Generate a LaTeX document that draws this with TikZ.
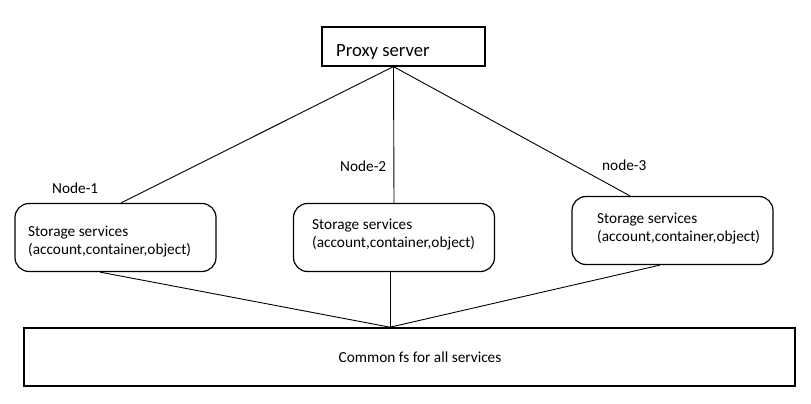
\documentclass[tikz,border=0pt]{standalone}
\usepackage{fontspec}
\setmainfont{Carlito}
\usetikzlibrary{calc}
\begin{document}
\begin{tikzpicture}[x=1pt,y=-1pt,
  link/.style={line width=0.9pt},
  proxybox/.style={draw,line width=1.2pt,minimum width=163pt,minimum height=39pt,inner sep=0pt},
  storebox/.style={draw,line width=1.2pt,rounded corners=14pt,minimum width=201pt,minimum height=68pt,inner sep=0pt},
  fsbox/.style={draw,line width=1.6pt,minimum width=771pt,minimum height=58pt,inner sep=0pt},
  txt/.style={anchor=base west,inner sep=0pt,font=\fontsize{15.3}{18}\selectfont},
  bigtxt/.style={anchor=base west,inner sep=0pt,font=\fontsize{18.67}{22}\selectfont}]
\useasboundingbox (0,0) rectangle (811,404);

% proxy at the top
\node[proxybox] (proxy) at (403.5,46.5) {};
\node[bigtxt] (proxylbl) at (336,57) {Proxy server};

% three storage nodes
\node[storebox] (box1) at (115.5,237.5) {};
\node[storebox] (box2) at (394,237.5) {};
\node[storebox] (box3) at (672.5,230.5) {};

\node[txt] (s1a) at (28,236) {Storage services};
\node[txt] (s1b) at (28,254) {(account,container,object)};
\node[txt] (s2a) at (312,229) {Storage services};
\node[txt] (s2b) at (312,247) {(account,container,object)};
\node[txt] (s3a) at (597,223) {Storage services};
\node[txt] (s3b) at (597,241) {(account,container,object)};

\node[txt] (n1) at (52,193) {Node-1};
\node[txt] (n2) at (340,171) {Node-2};
\node[txt] (n3) at (602,170) {node-3};

% shared filesystem
\node[fsbox] (fs) at (409.5,357) {};
\node[txt,anchor=base] (fslbl) at (420,362) {Common fs for all services};

% connectors
\coordinate (ptop) at ($(proxy.south)+(-10,0)$);
\coordinate (fstop) at ($(fs.north)+(-19.5,0)$);

\draw[link] (ptop) -- ($(box1.north)+(5.5,0)$);
\draw[link] (ptop) -- (box2.north);
\draw[link] (ptop) -- ($(box3.north)+(-42.5,0)$);

\draw[link] ($(box1.south)+(-15.5,0)$) -- (fstop);
\draw[link] ($(box2.south)+(-4,0)$) -- (fstop);
\draw[link] ($(box3.south)+(-12.5,0)$) -- (fstop);
\end{tikzpicture}
\end{document}
